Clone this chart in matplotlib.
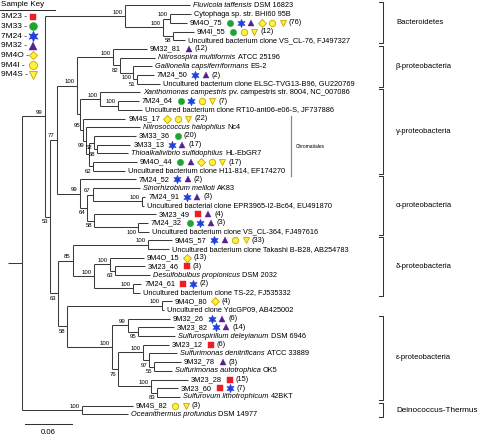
import matplotlib
matplotlib.use('Agg')
import matplotlib.pyplot as plt

plt.rcParams['font.family'] = ['Liberation Sans', 'DejaVu Sans']

# leaf labels from top to bottom; the part before '|' is set in italics
leaf_names = [
    'Fluvicola taffensis|DSM 16823',
    'Cytophaga sp. str. BHI60 95B',
    '9M4O_75',
    '9M4I_55',
    'Uncultured bacterium clone VS_CL-76, FJ497327',
    '9M32_81',
    'Nitrosospira multiformis|ATCC 25196',
    'Gallionella capsiferriformans|ES-2',
    '7M24_50',
    'Uncultured bacterium clone ELSC-TVG13-B96, GU220769',
    'Xanthomonas campestris|pv. campestris str. 8004, NC_007086',
    '7M24_64',
    'Uncultured bacterium clone RT10-ant06-e06-S, JF737886',
    '9M4S_17',
    'Nitrosococcus halophilus|Nc4',
    '3M33_36',
    '3M33_13',
    'Thioalkalivibrio sulfidophilus|HL-EbGR7',
    '9M4O_44',
    'Uncultured bacterium clone H11-814, EF174270',
    '7M24_52',
    'Sinorhizobium meliloti|AK83',
    '7M24_91',
    'Uncultured bacterial clone EPR3965-I2-Bc64, EU491870',
    '3M23_49',
    '7M24_32',
    'Uncultured bacterium clone VS_CL-364, FJ497616',
    '9M4S_57',
    'Uncultured bacterium clone Takashi B-B28, AB254783',
    '9M4O_15',
    '3M23_46',
    'Desulfobulbus propionicus|DSM 2032',
    '7M24_61',
    'Uncultured bacterium clone TS-22, FJ535332',
    '9M4O_80',
    'Uncultured clone YdcGP09, AB425002',
    '9M32_26',
    '3M23_82',
    'Sulfurospirillum deleyianum|DSM 6946',
    '3M23_12',
    'Sulfurimonas denitrificans|ATCC 33889',
    '9M32_78',
    'Sulfurimonas autotrophica|OK5',
    '3M23_28',
    '3M23_60',
    'Sulfurovum lithotrophicum|42BKT',
    '9M4S_82',
    'Oceanithermus profundus|DSM 14977',
]

# samples in which each clone was found
leaf_samples = [
    '', '', '3M33 7M24 9M32 9M4O 9M4I 9M4S', '3M33 9M4I 9M4S', '',
    '9M32', '', '', '7M24 9M32', '',
    '', '3M33 7M24 9M4I 9M4S', '', '9M4O 9M4I 9M4S', '',
    '3M33', '7M24 9M32', '', '3M33 9M32 9M4O 9M4I 9M4S', '',
    '7M24 9M32', '', '7M24 9M32', '', '3M23 9M32',
    '3M33 7M24 9M32', '', '7M24 9M32 9M4I 9M4S', '', '9M4O',
    '3M23', '', '3M23 7M24', '', '9M4O',
    '', '7M24 9M32', '7M24 9M32', '', '3M23',
    '', '9M32', '', '3M23', '3M23 7M24',
    '', '9M4I 9M4S', '',
]

leaf_counts = [
    None, None, 76, 12, None, 12, None, None, 2, None,
    None, 7, None, 22, None, 20, 17, None, 17, None,
    2, None, 3, None, 4, 3, None, 33, None, 13,
    3, None, 2, None, 4, None, 6, 14, None, 6,
    None, 3, None, 15, 7, None, 3, None,
]

# tree, leaves are indices into leaf_names, branch lengths in substitutions/site
# bootstrap labels ending in 'b' are printed below the branch
tree_newick = """
(((0:0.0835,((1:0.0270,2:0.0218)100:0.0090,(3:0.0270,4:0.0154)58b:0.0128)100:0.0488)100:0.1028,
((((5:0.0437,(6:0.0450,(7:0.0244,(8:0.0218,9:0.0296)51b:0.0051)100b:0.0167)82b:0.0090)100:0.0463,
((10:0.0514,(11:0.0270,12:0.0308)100:0.0231)100:0.0257,
(13:0.0540,(14:0.0694,((15:0.0540,(16:0.0424,17:0.0398)58b:0.0039)52b:0.0064,
(18:0.0565,19:0.0411)62b:0.0051):0.0039)99b:0.0039)95:0.0039):0.0039)100:0.0257,
(20:0.0719,((21:0.0604,(22:0.0039,23:0.0026)100:0.0630)67:0.0077,
(24:0.0797,(25:0.0128,26:0.0141)100b:0.0565)58b:0.0090)64b:0.0090)99:0.0296)77:0.0090,
(((27:0.0308,28:0.0270)100:0.0964,((29:0.0437,(30:0.0385,31:0.0450)63b:0.0064)100:0.0206,
(32:0.0103,33:0.0090)100:0.0501)100:0.0270)85:0.0193,
((34:0.0128,35:0.0020)100:0.1221,
((36:0.0540,(37:0.0463,38:0.0475)95b:0.0128)99:0.0206,
((39:0.0334,(40:0.0360,(41:0.0347,42:0.0231)55b:0.0064)97b:0.0077)100:0.0321,
(43:0.0475,(44:0.0270,45:0.0296)83b:0.0077)100:0.0424)76b:0.0077)100:0.0578)58b:0.0116)63b:0.0103)53b:0.0064)99:0.0296,
(46:0.0655,47:0.0591)100:0.0771);
"""

key_samples = ['3M23', '3M33', '7M24', '9M32', '9M4O', '9M4I', '9M4S']

clade_names = ['Bacteroidetes', 'β-proteobacteria', 'γ-proteobacteria', 'α-proteobacteria',
               'δ-proteobacteria', 'ε-proteobacteria', 'Deinococcus-Thermus']
clade_first = [0, 5, 10, 20, 27, 36, 46]
clade_last = [4, 9, 19, 26, 33, 45, 47]

STAR = (6, 1, 0)
YEL = '#fff23c'
YEL_EDGE = '#c8a400'
marker_style = {
    '3M23': dict(marker='s', ms=4.0, mfc='#ee1c25', mec='#ee1c25', mew=0.3),
    '3M33': dict(marker='o', ms=4.6, mfc='#1ea531', mec='#1ea531', mew=0.3),
    '7M24': dict(marker=STAR, ms=6.2, mfc='#2040e0', mec='#2040e0', mew=0.3),
    '9M32': dict(marker='^', ms=5.0, mfc='#57208f', mec='#57208f', mew=0.3),
    '9M4O': dict(marker='D', ms=3.6, mfc=YEL, mec=YEL_EDGE, mew=0.6),
    '9M4I': dict(marker='o', ms=4.6, mfc=YEL, mec=YEL_EDGE, mew=0.6),
    '9M4S': dict(marker='v', ms=4.8, mfc=YEL, mec=YEL_EDGE, mew=0.6),
}


def parse_newick(s):
    s = ''.join(s.split())
    pos = 0

    def node():
        nonlocal pos
        kids = []
        if s[pos] == '(':
            pos += 1
            while True:
                kids.append(node())
                if s[pos] == ',':
                    pos += 1
                    continue
                pos += 1
                break
        start = pos
        while s[pos] not in ':,);':
            pos += 1
        label = s[start:pos]
        length = 0.0
        if s[pos] == ':':
            pos += 1
            start = pos
            while s[pos] not in ',);':
                pos += 1
            length = float(s[start:pos])
        return {'label': label, 'len': length, 'kids': kids}

    return node()


def layout(n, x0):
    n['x'] = x0 + n['len']
    if not n['kids']:
        n['y'] = int(n['label'])
        return
    for c in n['kids']:
        layout(c, n['x'])
    n['y'] = (n['kids'][0]['y'] + n['kids'][-1]['y']) / 2


W, H = 480, 436
PX = 0.06 / 46.7     # substitutions per pixel
ROW = 8.7            # pixels per leaf
X0, Y0 = 22, 5.5     # pixel position of the root / first leaf

fig = plt.figure(figsize=(W / 100, H / 100), dpi=100)
ax = fig.add_axes([0, 0, 1, 1])
ax.set_xlim(-X0 * PX, (W - X0) * PX)
ax.set_ylim((H - Y0) / ROW, -Y0 / ROW)
ax.axis('off')
renderer = fig.canvas.get_renderer()


def px(xp, yp):
    return (xp - X0) * PX, (yp - Y0) / ROW


line_kw = dict(color='#3a3a3a', lw=0.75, solid_capstyle='butt')
tips = {}


def draw(n):
    if not n['kids']:
        tips[int(n['label'])] = n['x']
        return
    ax.plot([n['x'], n['x']], [n['kids'][0]['y'], n['kids'][-1]['y']], **line_kw)
    for c in n['kids']:
        ax.plot([n['x'], c['x']], [c['y'], c['y']], **line_kw)
        draw(c)
    lab = n['label']
    if lab:
        if lab.endswith('b'):
            ax.text(n['x'] - 1.5 * PX, n['y'] + 5 / ROW, lab[:-1], fontsize=4.3,
                    ha='right', va='center')
        else:
            ax.text(n['x'] - 2.5 * PX, n['y'] - 4 / ROW, lab, fontsize=4.3,
                    ha='right', va='center')


root = parse_newick(tree_newick)
layout(root, 0.0)
draw(root)
ax.plot([-14 * PX, 0], [root['y'], root['y']], **line_kw)


def end_x(t):
    bb = t.get_window_extent(renderer)
    return ax.transData.inverted().transform((bb.x1, bb.y0))[0]


LEAF_FS = 5.3
for i, name in enumerate(leaf_names):
    x = tips[i] + 3 * PX
    if '|' in name:
        it, rest = name.split('|')
        t = ax.text(x, i, it, fontsize=LEAF_FS, style='italic', va='center')
        ax.text(end_x(t) + 2.2 * PX, i, rest, fontsize=LEAF_FS, va='center')
        continue
    t = ax.text(x, i, name, fontsize=LEAF_FS, va='center')
    if not leaf_samples[i]:
        continue
    mx = end_x(t) + 7.5 * PX
    for s in leaf_samples[i].split():
        ax.plot([mx], [i], ls='none', **marker_style[s])
        mx += 10.5 * PX
    ax.text(mx - 4.5 * PX, i, '(%d)' % leaf_counts[i], fontsize=LEAF_FS, va='center')

# clade brackets
for name, a, b in zip(clade_names, clade_first, clade_last):
    xb = px(383, 0)[0]
    y1, y2 = a - 0.35, b + 0.35
    ax.plot([xb - 4 * PX, xb, xb, xb - 4 * PX], [y1, y1, y2, y2], color='#333333', lw=0.75)
    fs = 5.9 if name.startswith('Deino') else 5.5
    ax.text(px(396, 0)[0], (y1 + y2) / 2, name, fontsize=fs, va='center')

# Chromatiales
xc = px(290.5, 0)[0]
ax.plot([xc, xc], [13 - 0.25, 19 + 0.6], color='#888888', lw=0.9)
ax.text(xc + 5 * PX, 16.2, 'Chromatiales', fontsize=3.5, va='center')

# sample key
ax.text(*px(1, 5), 'Sample Key', fontsize=5.8, va='center')
ax.plot(*zip(px(0, 10.5), px(55, 10.5)), color='black', lw=0.6)
for j, s in enumerate(key_samples):
    yk = 16.7 + 9.7 * j
    ax.text(*px(1, yk), s + ' -', fontsize=6.0, va='center')
    st = dict(marker_style[s])
    st['ms'] = st['ms'] * 1.25
    ax.plot(*[[v] for v in px(33, yk)], ls='none', **st)

# scale bar
sx, sy = px(25, 424)
ax.plot([sx, sx + 0.06], [sy, sy], color='#333333', lw=0.75)
ax.text(sx + 0.03, px(0, 433)[1], '0.06', fontsize=5.6, ha='center', va='center')

fig.savefig('out.png', dpi=100)
